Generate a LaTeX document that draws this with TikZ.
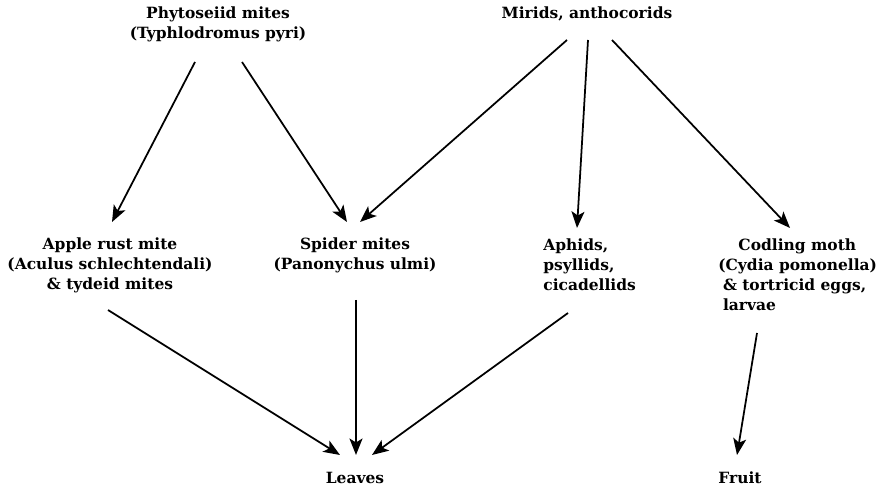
\documentclass[tikz,border=0pt]{standalone}
\usepackage{fontspec}
\setmainfont{DejaVu Serif}
\usepackage{tikz}
\usetikzlibrary{arrows.meta, positioning}

\tikzset{
  taxon/.style={font=\fontsize{8.8}{11.4}\selectfont\bfseries, align=center, inner sep=0pt},
  feeds/.style={-{Stealth[length=3.3mm, width=2.6mm, inset=0.8mm]}, line width=1pt}
}

\begin{document}
\begin{tikzpicture}
  \useasboundingbox (0,0) rectangle (17.56,9.76);
  % predators
  \node[taxon] (phyto) at (4.36,9.28) {Phytoseiid mites\\(Typhlodromus pyri)};
  \node[taxon] (mirids) at (11.74,9.48) {Mirids, anthocorids};
  % herbivores
  \node[taxon] (rust) at (2.2,4.46) {Apple rust mite\\(Aculus schlechtendali)\\\& tydeid mites};
  \node[taxon] (spider) at (7.1,4.66) {Spider mites\\(Panonychus ulmi)};
  \node[taxon, align=left, anchor=west] (aphids) at (10.86,4.46) {Aphids,\\psyllids,\\cicadellids};
  \node[taxon, align=left, anchor=west] (codling) at (14.36,4.26)
    {\hspace*{1.3em}Codling moth\\(Cydia pomonella)\\\hspace*{0.3em}\& tortricid eggs,\\\hspace*{0.3em}larvae};
  % plant parts
  \node[taxon] (leaves) at (7.1,0.2) {Leaves};
  \node[taxon] (fruit) at (14.8,0.2) {Fruit};

  \draw[feeds] ([shift={(-0.46,-0.76)}]phyto.center) -- ([shift={(0.04,0.86)}]rust.center);
  \draw[feeds] ([shift={(0.48,-0.76)}]phyto.center) -- ([shift={(-0.16,0.66)}]spider.center);
  \draw[feeds] ([shift={(-0.4,-0.52)}]mirids.center) -- ([shift={(0.1,0.66)}]spider.center);
  \draw[feeds] ([shift={(0.02,-0.52)}]mirids.center) -- ([shift={(0.68,0.74)}]aphids.west);
  \draw[feeds] ([shift={(0.5,-0.52)}]mirids.center) -- ([shift={(1.44,0.94)}]codling.west);

  \draw[feeds] ([shift={(-0.04,-0.9)}]rust.center) -- ([shift={(-0.3,0.46)}]leaves.center);
  \draw[feeds] ([shift={(0.02,-0.9)}]spider.center) -- ([shift={(0.02,0.46)}]leaves.center);
  \draw[feeds] ([shift={(0.5,-0.96)}]aphids.west) -- ([shift={(0.34,0.46)}]leaves.center);
  \draw[feeds] ([shift={(0.78,-1.16)}]codling.west) -- ([shift={(-0.06,0.46)}]fruit.center);
\end{tikzpicture}
\end{document}
